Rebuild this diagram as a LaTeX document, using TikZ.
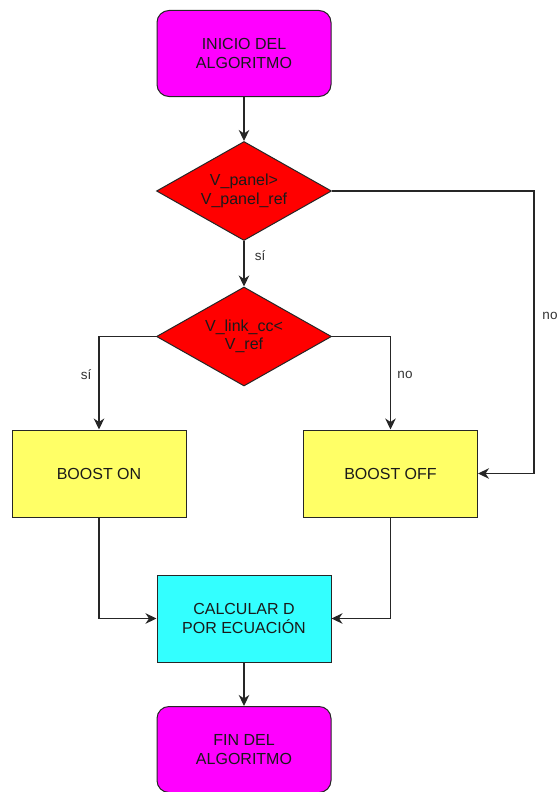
\documentclass[tikz,border=0pt]{standalone}
\usepackage{fontspec}
\setmainfont{Liberation Sans}
\usetikzlibrary{shapes.geometric,arrows.meta}
\definecolor{startfill}{HTML}{FF00FF}
\definecolor{decfill}{HTML}{FF0000}
\definecolor{boostfill}{HTML}{FFFF66}
\definecolor{calcfill}{HTML}{33FFFF}
\definecolor{txt}{HTML}{1A1A1A}
\definecolor{lbl}{HTML}{333333}
\begin{document}
\begin{tikzpicture}[x=1pt,y=-1pt,
  base/.style={draw=black!85, line width=1pt, text=txt, font=\fontsize{16}{18.5}\selectfont, align=center, inner sep=0pt},
  term/.style={base, rounded corners=12pt, fill=startfill, minimum width=174pt, minimum height=86pt},
  decide/.style={base, diamond, fill=decfill, aspect=1.786, minimum width=175pt, minimum height=99pt},
  proc/.style={base, rectangle, minimum width=174pt, minimum height=87pt},
  flow/.style={draw=black!85, line width=1.2pt, -{Stealth[length=11pt,width=10.5pt,inset=3.5pt]}},
  edgelbl/.style={text=lbl, font=\fontsize{13.5}{15}\selectfont, inner sep=1pt}
]
\useasboundingbox (0,0) rectangle (559,792);

% blocks
\node[term] (start) at (244,53.5) {INICIO DEL\\ALGORITMO};
\node[decide] (d1) at (244,191) {V\_panel>\\V\_panel\_ref};
\node[decide] (d2) at (244,336.5) {V\_link\_cc<\\V\_ref};
\node[proc, fill=boostfill] (bon) at (99,473.5) {BOOST ON};
\node[proc, fill=boostfill] (boff) at (390.5,473.5) {BOOST OFF};
\node[proc, fill=calcfill] (calc) at (244,618.5) {CALCULAR D\\POR ECUACIÓN};
\node[term] (fin) at (244,749.5) {FIN DEL\\ALGORITMO};

% connectors
\coordinate (bypass) at (534,191);
\draw[flow] (start) -- (d1);
\draw[flow] (d1) -- (d2);
\draw[flow] (d1.east) -- (bypass) |- (boff.east);
\draw[flow] (d2.west) -| (bon.north);
\draw[flow] (d2.east) -| (boff.north);
\draw[flow] (bon.south) |- (calc.west);
\draw[flow] (boff.south) |- (calc.east);
\draw[flow] (calc) -- (fin);

% branch labels
\node[edgelbl] (l1) at (260,256) {sí};
\node[edgelbl] (l2) at (86,375) {sí};
\node[edgelbl] (l3) at (405,375) {no};
\node[edgelbl] (l4) at (550,316) {no};
\end{tikzpicture}
\end{document}
